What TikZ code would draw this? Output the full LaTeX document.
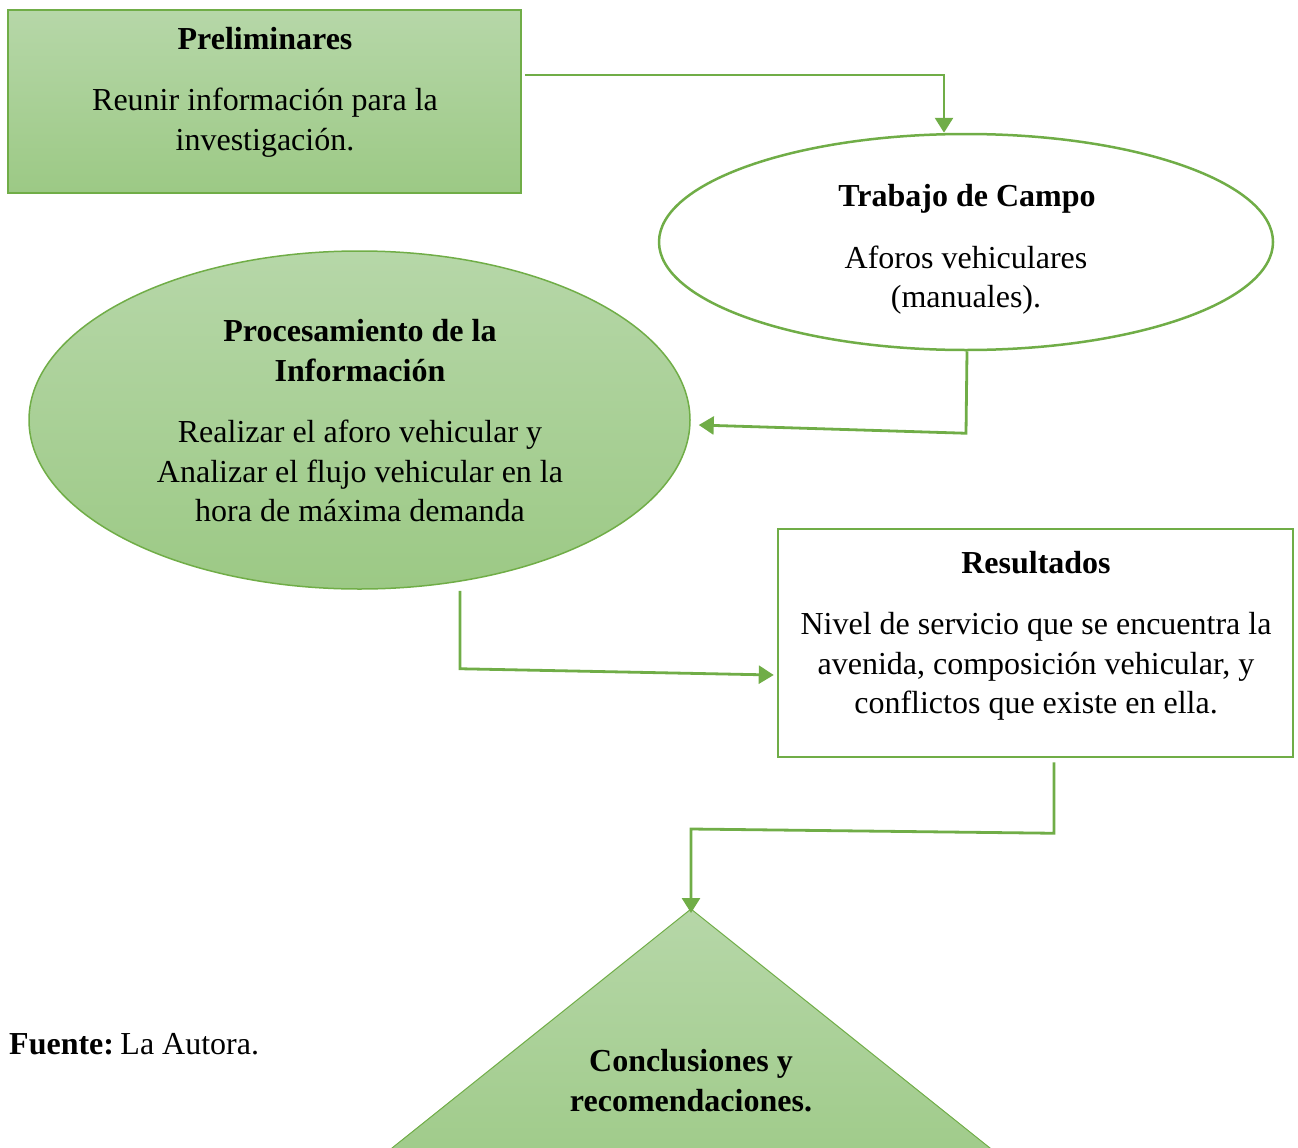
\documentclass[tikz,border=0pt]{standalone}
\usepackage{fontspec}
\setmainfont{Liberation Serif}
\usetikzlibrary{shapes.geometric,arrows.meta,calc}
\definecolor{gborder}{HTML}{70AD47}
\definecolor{gtop}{HTML}{B6D7A8}
\definecolor{gbot}{HTML}{9CC985}
\begin{document}
\begin{tikzpicture}[x=1pt,y=-1pt,
  txt/.style={font=\fontsize{32}{40}\selectfont, anchor=base, inner sep=0pt},
  ttl/.style={txt, font=\fontsize{32}{40}\selectfont\bfseries},
  conn/.style={draw=gborder, line width=2.8pt, -{Triangle[length=15pt,width=18pt]}},
  fillg/.style={top color=gtop, bottom color=gbot},
  ]
\useasboundingbox (0,0) rectangle (1298,1148);
\clip (0,0) rectangle (1298,1148);

% shapes
\node[rectangle, fillg, draw=gborder, line width=1.5pt, minimum width=513pt, minimum height=183pt, inner sep=0pt] (prelim) at (264.5,101.5) {};
\node[ellipse, fill=white, draw=gborder, line width=2.5pt, minimum width=614pt, minimum height=216pt, inner sep=0pt] (trab) at (966,242) {};
\node[ellipse, fillg, draw=gborder, line width=1.5pt, minimum width=661pt, minimum height=338pt, inner sep=0pt] (proc) at (359.5,420) {};
\node[rectangle, fill=white, draw=gborder, line width=2.5pt, minimum width=515pt, minimum height=228pt, inner sep=0pt] (res) at (1035.5,643) {};
\coordinate (apex) at (691,909);
\path[fillg, draw=gborder, line width=1pt] (apex) -- (327,1200) -- (1055,1200) -- cycle;

% texts
\node[ttl] (t1a) at (265,50) {Preliminares};
\node[txt] (t1b) at (265,110) {Reunir información para la};
\node[txt] (t1c) at (265,150) {investigación.};

\node[ttl] (t2a) at (967,206) {Trabajo de Campo};
\node[txt] (t2b) at (966,268) {Aforos vehiculares};
\node[txt] (t2c) at (966,307) {(manuales).};

\node[ttl] (t3a) at (360,341) {Procesamiento de la};
\node[ttl] (t3b) at (360,381) {Información};
\node[txt] (t3c) at (360,442) {Realizar el aforo vehicular y};
\node[txt] (t3d) at (360,482) {Analizar el flujo vehicular en la};
\node[txt] (t3e) at (360,521) {hora de máxima demanda};

\node[ttl] (t4a) at (1036,573) {Resultados};
\node[txt] (t4b) at (1036,634) {Nivel de servicio que se encuentra la};
\node[txt] (t4c) at (1036,674) {avenida, composición vehicular, y};
\node[txt] (t4d) at (1036,713) {conflictos que existe en ella.};

\node[ttl] (t5a) at (691,1071) {Conclusiones y};
\node[ttl] (t5b) at (691,1111) {recomendaciones.};

\node[txt, anchor=base west] (fuente) at (9,1054) {\textbf{Fuente:}\hspace{0.2em}La Autora.};

% connectors
\draw[conn] ([xshift=3pt]prelim.east |- 0,75) -| ([xshift=-22pt]trab.north);
\draw[conn] ([xshift=1pt]trab.south) -- ++(-1,82) -- ([shift={(8,5)}]proc.east);
\draw[conn] ([shift={(100.5,1)}]proc.south) -- ++(0,78) -- ([shift={(-3,32)}]res.west);
\draw[conn] ([shift={(18.5,4)}]res.south) -- ++(0,71) -- (apex |- 0,829) -- ([yshift=-4pt]apex);
\end{tikzpicture}
\end{document}
